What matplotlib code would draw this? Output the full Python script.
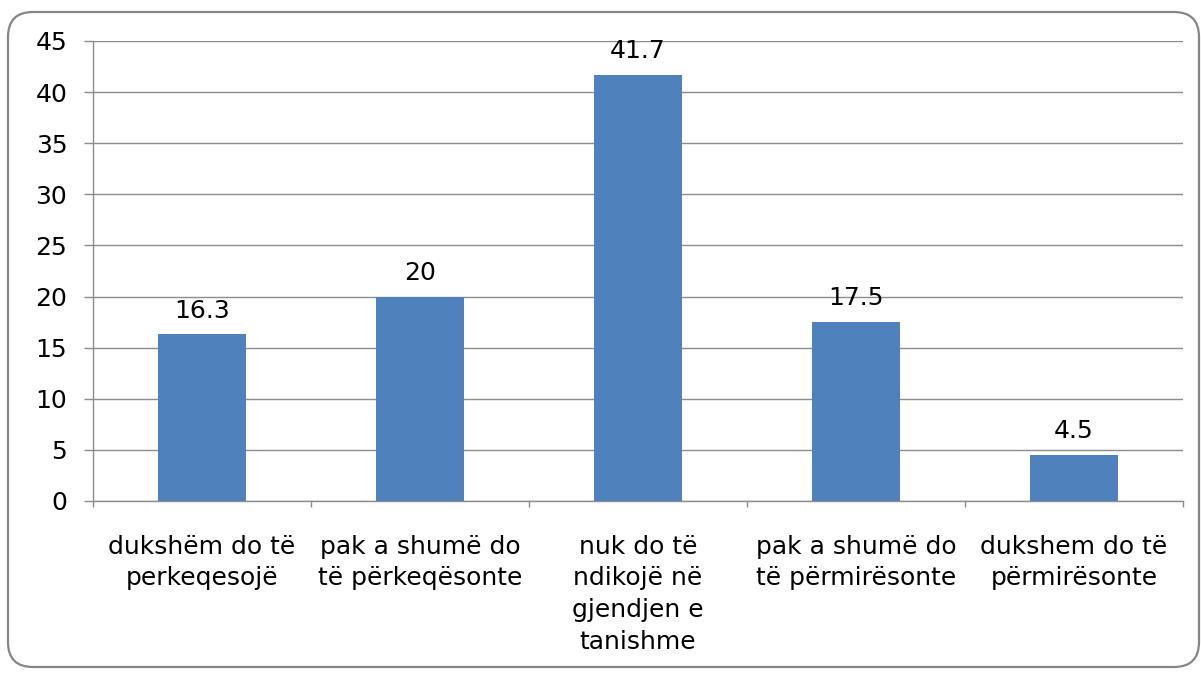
import matplotlib.pyplot as plt
from matplotlib.patches import FancyBboxPatch

categories = ['dukshëm do të\nperkeqesojë', 'pak a shumë do\ntë përkeqësonte',
              'nuk do të\nndikojë në\ngjendjen e\ntanishme', 'pak a shumë do\ntë përmirësonte',
              'dukshem do të\npërmirësonte']
values = [16.3, 20, 41.7, 17.5, 4.5]
value_labels = ['16.3', '20', '41.7', '17.5', '4.5']
yticks = [0, 5, 10, 15, 20, 25, 30, 35, 40, 45]

W, H = 1201, 677
FS = 18
plt.rcParams['font.family'] = ['DejaVu Sans']
fig = plt.figure(figsize=(W / 100, H / 100), dpi=100)

# rounded frame around the whole chart (pixel units, behind everything)
frame = FancyBboxPatch((8, H - 667), 1191, 655,
                       boxstyle='round,pad=0,rounding_size=25',
                       transform=None, facecolor='none',
                       edgecolor='#868686', linewidth=1.6, zorder=-1)
fig.patches.append(frame)

ax = fig.add_axes([93 / W, 1 - 501 / H, 1090 / W, 460 / H])
ax.set_facecolor('none')
ax.set_zorder(2)
x = range(len(values))
ax.bar(x, values, width=0.4, color='#4F81BD', zorder=3)
for xi, v, lab in zip(x, values, value_labels):
    ax.text(xi, v + 1.15, lab, ha='center', va='bottom', fontsize=FS, color='black', zorder=4)

ax.set_xlim(-0.5, len(values) - 0.5)
ax.set_ylim(0, 45)
ax.set_yticks(yticks)
ax.yaxis.grid(True, color='#8c8c8c', linewidth=1.0)
ax.tick_params(axis='y', length=6.5, color='#8c8c8c', width=1.0, labelsize=FS, pad=12)

# category ticks sit between the bars
ax.set_xticks([i - 0.5 for i in range(len(values) + 1)])
ax.set_xticklabels([])
ax.tick_params(axis='x', length=4.5, color='#8c8c8c', width=1.0)
for xi, c in zip(x, categories):
    ax.text(xi, -3.3, c, ha='center', va='top', fontsize=FS, color='black',
            linespacing=1.4)

for s in ['top', 'right']:
    ax.spines[s].set_visible(False)
for s in ['left', 'bottom']:
    ax.spines[s].set_color('#8c8c8c')
    ax.spines[s].set_linewidth(1.0)

fig.savefig('out.png', dpi=100)
